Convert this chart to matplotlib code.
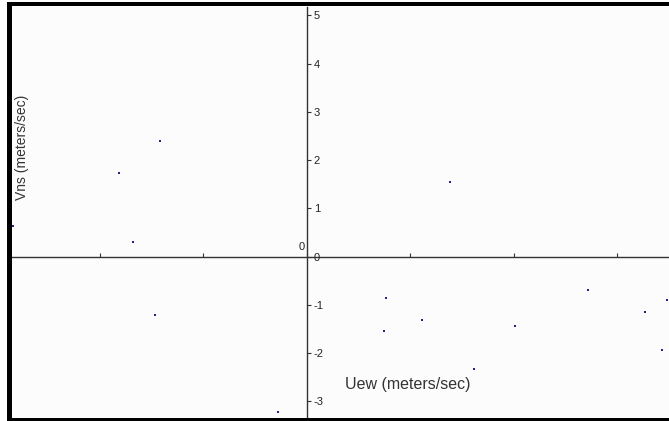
import matplotlib
matplotlib.use("Agg")
import matplotlib.pyplot as plt
from matplotlib.patches import Rectangle

# Data
uew = [-5.67, -3.62, -2.83, -3.36, -2.93, -0.55, 2.77, 1.53, 2.23, 1.49, 3.23, 4.03, 5.44, 6.54, 6.97, 6.87]
vns = [0.64, 1.73, 2.40, 0.30, -1.21, -3.22, 1.55, -0.85, -1.31, -1.54, -2.32, -1.44, -0.70, -1.15, -0.89, -1.93]
x_ticks = [-4, -2, 0, 2, 4, 6]
y_ticks = [-3, -2, -1, 0, 1, 2, 3, 4, 5]
y_ticklabels = ["-3", "-2", "-1", "0", "1", "2", "3", "4", "5"]

W, H = 669, 421
fig = plt.figure(figsize=(W / 100, H / 100), dpi=100)
fig.patch.set_facecolor("white")
plt.rcParams['font.family'] = ['Liberation Sans', 'DejaVu Sans']

ax = fig.add_axes([12 / W, 3 / H, (W - 12) / W, 411 / H])
ax.set_facecolor("#fcfcfc")

ax.scatter(uew, vns, s=3, marker="s", color="#22228a", linewidths=0, zorder=5)

ax.set_xlim(-5.695, 7.001)
ax.set_ylim(-3.343, 5.175)

for s in ["left", "top"]:
    ax.spines[s].set_visible(False)
ax.spines["right"].set_position(("data", 0))
ax.spines["bottom"].set_position(("data", 0))
for s in ["right", "bottom"]:
    ax.spines[s].set_color("#333333")
    ax.spines[s].set_linewidth(1.0)

ax.yaxis.set_ticks_position("right")
ax.set_yticks(y_ticks)
ax.set_yticklabels(y_ticklabels)
ax.tick_params(axis="y", direction="out", length=3, width=0.8, color="#333333",
               labelsize=8, pad=2, labelcolor="#222222")

ax.xaxis.set_ticks_position("bottom")
ax.set_xticks(x_ticks)
ax.set_xticklabels([""] * len(x_ticks))
ax.tick_params(axis="x", direction="in", length=3, width=0.8, color="#333333")

ax.text(-0.03, 0.1, "0", ha="right", va="bottom", fontsize=8, color="#222222")

fig.text(345 / W, 1 - 385 / H, "Uew (meters/sec)", ha="left", va="center",
         fontsize=11.5, color="#333333")
fig.text(22 / W, 1 - 147 / H, "Vns (meters/sec)", ha="center", va="center",
         rotation=90, fontsize=10, color="#333333")

# black frame
fig.add_artist(Rectangle((7 / W, 0), (W - 7) / W, 3 / H, transform=fig.transFigure,
                         facecolor="black", edgecolor="none", zorder=10))
fig.add_artist(Rectangle((7 / W, 1 - 6 / H), (W - 7) / W, 4 / H, transform=fig.transFigure,
                         facecolor="black", edgecolor="none", zorder=10))
fig.add_artist(Rectangle((7 / W, 0), 5 / W, 1 - 2 / H, transform=fig.transFigure,
                         facecolor="black", edgecolor="none", zorder=10))

fig.savefig("out.png", dpi=100, facecolor="white")
